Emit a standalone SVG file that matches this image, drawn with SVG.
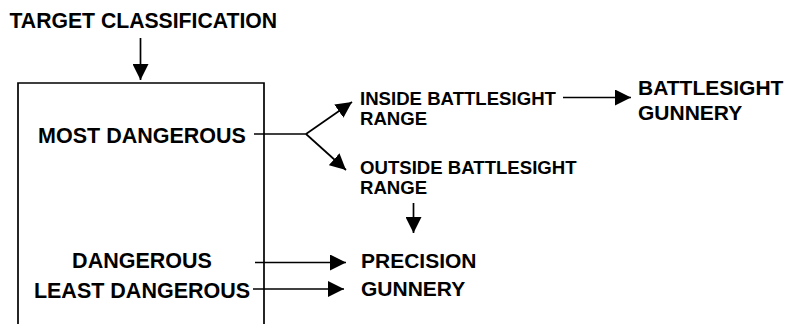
<svg xmlns="http://www.w3.org/2000/svg" width="787" height="324" viewBox="0 0 787 324">
  <style>
    .t { font-family: "Liberation Sans", Arial, sans-serif; font-weight: bold; fill: #000; }
    .big { font-size: 21px; }
    .ttl { font-size: 21.2px; }
    .lbl { font-size: 21.5px; }
    .sm { font-size: 18.6px; }
    .ln { fill: none; stroke: #000; stroke-width: 1.7; }
  </style>
  <defs>
    <marker id="ah" markerUnits="userSpaceOnUse" markerWidth="16" markerHeight="16" refX="16" refY="8" orient="auto">
      <path d="M0,0 L16,8 L0,16 Z" fill="#000"/>
    </marker>
  </defs>
  <rect width="787" height="324" fill="#fff"/>

  <g id="title">
    <text class="t ttl" x="9.5" y="28">TARGET CLASSIFICATION</text>
  </g>

  <g id="classification-box">
    <path class="ln" d="M18,326 V83 H264 V326"/>
    <text class="t lbl" x="142" y="142.7" text-anchor="middle">MOST DANGEROUS</text>
    <text class="t lbl" x="142" y="268.3" text-anchor="middle">DANGEROUS</text>
    <text class="t lbl" x="142" y="297.7" text-anchor="middle">LEAST DANGEROUS</text>
  </g>

  <g id="inside-range">
    <text class="t sm" x="360" y="104.5">INSIDE BATTLESIGHT</text>
    <text class="t sm" x="360" y="125">RANGE</text>
  </g>

  <g id="outside-range">
    <text class="t sm" x="360" y="173.5">OUTSIDE BATTLESIGHT</text>
    <text class="t sm" x="360" y="193.5">RANGE</text>
  </g>

  <g id="battlesight-gunnery">
    <text class="t big" x="638" y="95">BATTLESIGHT</text>
    <text class="t big" x="638" y="119.5">GUNNERY</text>
  </g>

  <g id="precision-gunnery">
    <text class="t big" x="361" y="267.7">PRECISION</text>
    <text class="t big" x="361" y="296">GUNNERY</text>
  </g>

  <g id="connectors">
    <path class="ln" d="M140.5,38 V80" marker-end="url(#ah)"/>
    <path class="ln" d="M254,134 H306"/>
    <path class="ln" d="M306,134 L352,102" marker-end="url(#ah)"/>
    <path class="ln" d="M306,134 L346,170" marker-end="url(#ah)"/>
    <path class="ln" d="M563,97.5 H631" marker-end="url(#ah)"/>
    <path class="ln" d="M413.5,203 V233" marker-end="url(#ah)"/>
    <path class="ln" d="M255,262.5 H346" marker-end="url(#ah)"/>
    <path class="ln" d="M253,289 H344" marker-end="url(#ah)"/>
  </g>
</svg>
